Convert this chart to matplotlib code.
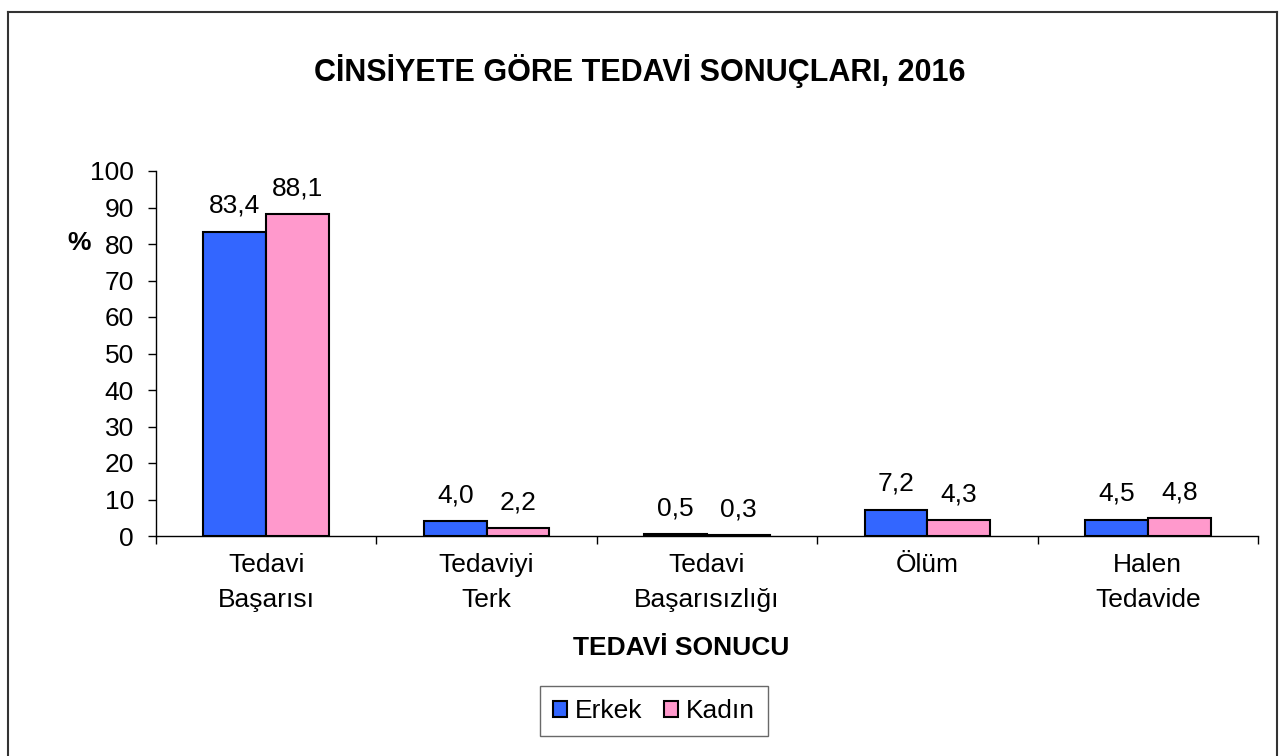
import matplotlib
matplotlib.use('Agg')
import matplotlib.pyplot as plt
from matplotlib.lines import Line2D
from matplotlib.patches import Patch
import numpy as np

plt.rcParams['font.family'] = ['Liberation Sans', 'DejaVu Sans']

categories = ['Tedavi\nBaşarısı', 'Tedaviyi\nTerk', 'Tedavi\nBaşarısızlığı', 'Ölüm', 'Halen\nTedavide']
erkek = [83.4, 4.0, 0.5, 7.2, 4.5]
kadin = [88.1, 2.2, 0.3, 4.3, 4.8]
erkek_labels = ['83,4', '4,0', '0,5', '7,2', '4,5']
kadin_labels = ['88,1', '2,2', '0,3', '4,3', '4,8']

c_erkek = '#3366FF'
c_kadin = '#FF99CC'
fs = 19

fig = plt.figure(figsize=(12.86, 7.56), dpi=100)
ax = fig.add_axes([156/1286, 1 - 536/756, (1258 - 156)/1286, 365/756])

x = np.arange(len(categories))
w = 0.285
b1 = ax.bar(x - w/2, erkek, w, color=c_erkek, edgecolor='black', linewidth=1.5)
b2 = ax.bar(x + w/2, kadin, w, color=c_kadin, edgecolor='black', linewidth=1.5)

for bars, labs in ((b1, erkek_labels), (b2, kadin_labels)):
    for bar, lab in zip(bars, labs):
        ax.annotate(lab, (bar.get_x() + bar.get_width()/2, bar.get_height()),
                    xytext=(0, 10), textcoords='offset points',
                    ha='center', va='bottom', fontsize=fs)

ax.set_xlim(-0.5, len(categories) - 0.5)
ax.set_ylim(0, 100)
ax.set_yticks(np.arange(0, 101, 10))
ax.tick_params(axis='y', labelsize=fs, length=5.5, width=1, direction='out', pad=10.5)

# ticks between groups, labels at centres
ax.set_xticks(np.arange(-0.5, len(categories), 1.0))
ax.set_xticklabels([])
ax.tick_params(axis='x', which='major', length=6, width=1, direction='out')
ax.set_xticks(x, minor=True)
ax.set_xticklabels(categories, minor=True, fontsize=fs, linespacing=1.6)
ax.tick_params(axis='x', which='minor', length=0, pad=12)

for s in ('top', 'right'):
    ax.spines[s].set_visible(False)
for s in ('left', 'bottom'):
    ax.spines[s].set_linewidth(1)

ax.set_xlabel('TEDAVİ SONUCU', fontsize=fs, fontweight='bold')
ax.xaxis.set_label_coords((681 - 156)/1102, -(636 - 536)/365)
fig.text(79/1286, 1 - 243/756, '%', fontsize=fs, fontweight='bold', ha='center', va='center')

fig.text(640/1286, 1 - 71/756, 'CİNSİYETE GÖRE TEDAVİ SONUÇLARI, 2016',
         fontsize=22, fontweight='bold', ha='center', va='center')

handles = [Patch(facecolor=c_erkek, edgecolor='black', linewidth=1.5, label='Erkek'),
           Patch(facecolor=c_kadin, edgecolor='black', linewidth=1.5, label='Kadın')]
leg = fig.legend(handles=handles, loc='center', bbox_to_anchor=(654/1286, 1 - 711/756),
                 ncol=2, fontsize=fs, frameon=True, fancybox=False, handlelength=0.55,
                 handleheight=0.55, handletextpad=0.3, columnspacing=0.8, borderpad=0.5,
                 borderaxespad=0)
leg.get_frame().set_edgecolor('#444444')
leg.get_frame().set_linewidth(1)

# outer chart frame
fx0, fy1, fx1 = 8/1286, 1 - 12/756, 1277/1286
fig.add_artist(Line2D([fx0, fx0], [0, fy1], transform=fig.transFigure, color='#333333', lw=1.5))
fig.add_artist(Line2D([fx0, fx1], [fy1, fy1], transform=fig.transFigure, color='#333333', lw=1.5))
fig.add_artist(Line2D([fx1, fx1], [0, fy1], transform=fig.transFigure, color='#333333', lw=1.5))

fig.savefig('out.png', dpi=100)
